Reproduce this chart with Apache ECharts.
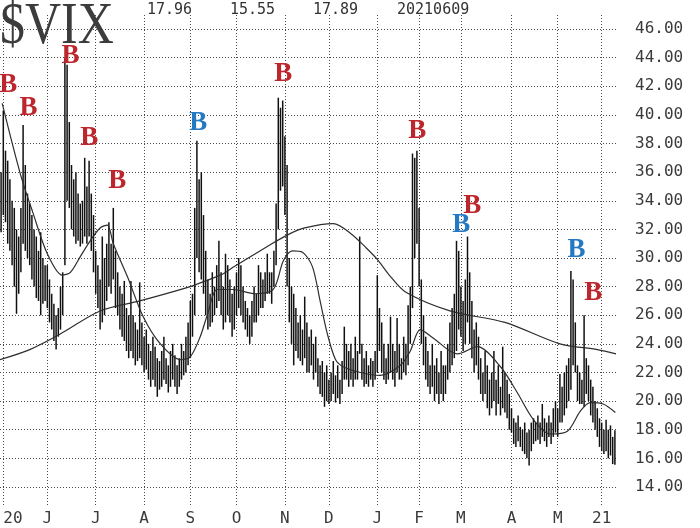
<!DOCTYPE html>
<html>
<head>
<meta charset="utf-8">
<script src="https://cdn.jsdelivr.net/npm/echarts@6/dist/echarts.min.js"></script>
<style>
  html, body { margin: 0; padding: 0; background: #fff; }
  #chart { width: 700px; height: 528px; }
</style>
</head>
<body>
<div id="chart"></div>
<script>
// trading-day index of the first bar (day 0 = first trading day of May 2020)
const firstDay = -1

// daily highs / lows of $VIX
const highs = [
  36.0, 40.3, 37.5, 36.8, 35.5, 34.0, 33.5, 32.0, 31.5, 33.5, 39.3,
  36.5, 34.5, 33.8, 33.0, 32.0, 31.5, 30.5, 31.8, 30.0, 29.5,
  29.5, 28.5, 27.5, 26.8, 26.0, 26.5, 28.0, 29.0, 44.0, 43.5,
  39.5, 36.5, 35.5, 36.0, 34.5, 33.8, 34.0, 37.0, 35.0, 36.8,
  34.5, 33.0, 30.5, 29.5, 28.5, 31.5, 30.0, 31.0, 32.5, 31.0,
  33.5, 30.5, 29.0, 28.0, 27.5, 28.4, 26.5, 26.0, 28.4, 26.0,
  25.5, 25.0, 28.3, 25.5, 24.5, 25.0, 24.0, 23.5, 24.5, 23.8,
  23.0, 22.8, 23.5, 24.5, 23.0, 22.5, 23.5, 24.0, 23.2, 22.5,
  23.0, 24.0, 23.5, 24.5, 25.5, 27.0, 27.5, 33.5, 38.2, 35.5,
  36.0, 33.0, 30.5, 28.5, 27.5, 29.0, 28.0, 29.5, 31.2, 29.0,
  28.0, 30.3, 29.5, 28.5, 27.5, 28.0, 29.0, 30.0, 29.5, 28.0,
  27.0, 26.5, 26.0, 27.0, 28.0, 27.5, 29.5, 29.0, 28.5, 29.0,
  30.3, 29.0, 29.0, 30.5, 33.8, 41.2, 40.5, 41.0, 38.5, 36.5,
  30.0, 28.0, 27.5, 26.5, 25.5, 26.0, 25.0, 27.3, 25.5, 24.5,
  25.0, 24.0, 24.5, 23.0, 22.5, 22.8, 22.0, 22.5, 21.5, 22.0,
  22.8, 21.8, 22.5, 21.5, 22.8, 25.2, 24.0, 23.5, 24.0, 23.0,
  24.5, 23.5, 31.5, 24.0, 23.0, 23.5, 22.5, 23.0, 22.8, 23.5,
  28.8, 26.5, 25.5, 24.0, 23.0, 24.0, 25.9, 24.0, 23.5, 25.8,
  24.0, 23.0, 24.5, 24.0, 26.7, 28.0, 37.3, 37.0, 37.5, 33.5,
  28.5, 26.0, 24.5, 23.5, 22.5, 24.0, 22.5, 23.0, 22.0, 23.5,
  22.5, 22.5, 24.0, 25.5, 26.5, 27.5, 31.2, 30.5, 28.0, 27.0,
  28.5, 31.5, 29.0, 27.0, 25.0, 25.5, 24.5, 23.0, 22.0, 23.5,
  22.5, 21.5, 22.0, 23.5, 21.5, 22.5, 21.0, 23.8, 22.0, 21.5,
  20.5, 19.5, 18.8, 18.5, 19.0, 18.2, 18.0, 18.5, 17.8, 18.0,
  18.5, 18.8, 18.5, 19.0, 18.5, 19.8, 18.8, 18.5, 19.0, 18.5,
  19.5, 20.0, 19.5, 21.9, 21.0, 22.0, 22.5, 23.0, 29.1, 28.5,
  25.5, 22.5, 22.0, 21.5, 26.0, 23.0, 22.5, 21.5, 21.0, 20.0,
  19.5, 18.8, 18.5, 18.0, 18.7, 18.0, 18.3, 17.5, 17.96
]
const lows = [
  31.8, 33.0, 32.5, 31.0, 30.5, 29.5, 28.0, 26.1, 27.5, 29.0, 31.0,
  30.5, 30.0, 29.5, 28.5, 28.0, 27.2, 27.0, 26.0, 26.8, 27.0,
  26.5, 25.5, 25.0, 24.2, 23.6, 24.5, 25.0, 26.0, 29.5, 34.0,
  33.5, 32.0, 31.5, 31.0, 31.2, 30.8, 31.0, 31.5, 31.0, 31.5,
  30.5, 29.0, 27.5, 26.5, 25.0, 25.5, 26.0, 27.0, 28.0, 27.5,
  28.5, 26.5, 26.0, 25.0, 24.5, 24.2, 23.5, 23.0, 23.5, 23.0,
  22.5, 22.8, 23.0, 22.5, 22.0, 22.2, 21.5, 21.0, 21.5, 21.0,
  20.3, 20.8, 21.0, 21.5, 21.2, 20.6, 21.0, 21.5, 21.0, 20.5,
  21.0, 21.5, 21.8, 22.0, 22.5, 23.0, 24.5, 26.0, 30.0, 29.0,
  28.5, 27.5, 26.0, 25.0, 25.2, 25.5, 26.0, 26.5, 27.0, 26.0,
  25.0, 25.5, 26.0, 25.5, 24.5, 25.0, 26.0, 26.5, 26.0, 25.5,
  25.0, 24.5, 24.0, 24.5, 25.5, 25.5, 26.0, 26.5, 26.5, 27.0,
  27.5, 27.5, 26.8, 28.0, 29.5, 32.0, 34.7, 35.0, 33.0, 28.0,
  25.5, 24.0, 22.5, 23.5, 23.0, 22.8, 22.5, 23.0, 22.0, 22.0,
  22.5, 21.5, 22.0, 21.0, 20.5, 20.3, 19.6, 20.0, 19.8, 20.0,
  20.5, 19.9, 20.2, 19.8, 20.5, 21.5, 21.5, 21.0, 21.5, 21.0,
  21.5, 21.5, 23.3, 21.5, 21.0, 21.2, 21.0, 21.5, 21.0, 21.5,
  22.0, 23.5, 22.0, 21.5, 21.2, 21.5, 22.0, 21.5, 21.0, 22.0,
  21.5, 21.5, 22.0, 21.8, 22.5, 24.0, 26.5, 30.0, 31.0, 28.0,
  24.0, 22.5, 21.5, 21.0, 20.5, 21.0, 20.0, 20.5, 19.8, 20.5,
  20.0, 20.5, 21.5, 22.0, 22.5, 23.0, 23.5, 25.0, 24.5, 23.5,
  24.0, 25.5, 24.0, 23.0, 22.0, 22.5, 21.5, 20.5, 20.0, 20.5,
  19.5, 19.0, 19.5, 20.0, 19.0, 19.8, 19.0, 19.5, 19.2, 18.8,
  18.0, 17.8, 17.0, 16.8, 17.2, 16.8, 16.5, 16.3, 16.0, 15.5,
  16.5, 17.0, 17.2, 17.3, 17.0, 17.5, 17.2, 16.8, 17.5, 17.0,
  17.5, 17.8, 17.5, 18.5, 18.5, 19.0, 19.5, 20.0, 20.8, 22.5,
  22.0, 20.0, 19.8, 19.8, 19.6, 20.5, 20.0, 19.0, 18.5, 18.0,
  17.5, 16.8, 16.5, 16.3, 16.5, 16.0, 16.2, 15.6, 15.55
]

// moving averages [day, value]
const ma20 = [
  [-0.5, 40.8], [7.7, 35.9], [13.6, 33.1], [20, 30.3], [26.8, 28.8], [30.5, 29.0],
  [35, 30.1], [39.5, 31.2], [44, 32.1], [47.3, 32.3], [50, 31.0], [56.4, 28.7],
  [63.6, 25.9], [71.4, 24.0], [80.5, 22.9], [85, 23.1], [89.5, 24.5], [92.7, 26.0],
  [97.3, 27.8], [104.5, 27.8], [114.5, 27.5], [122.7, 27.8], [127.3, 29.8], [131.4, 30.5],
  [136, 30.4], [140.5, 29.4], [144, 27.0], [147.3, 24.7], [151, 22.9], [154.5, 22.4],
  [162.3, 22.0], [171.4, 21.8], [180.5, 22.5], [185, 23.5], [189.5, 25.0], [195.5, 24.4],
  [206.4, 23.3], [215.5, 23.8], [226, 22.4], [233.6, 20.6], [241, 18.7], [248.6, 17.7],
  [256.4, 17.9], [262.3, 19.3], [266.8, 19.9], [272.7, 19.8], [278.2, 19.2]
]
const ma200 = [
  [-1.5, 22.9], [12, 23.6], [26, 24.7], [44, 26.3], [62, 27.0], [85, 28.0], [92, 28.4],
  [100, 28.9], [105, 29.4], [120, 30.8], [129, 31.6], [137, 32.1], [150, 32.4],
  [158, 31.7], [165, 30.7], [170, 29.9], [176, 28.7], [183, 27.6], [203, 26.3],
  [228, 25.5], [253, 24.0], [270, 23.6], [278.5, 23.3]
]

// buy signals [day, level]
const redB = [[2.3, 42.1], [11.4, 40.5], [30.5, 44.1], [39.1, 38.4], [51.8, 35.4],
  [127.3, 42.85], [188.2, 38.9], [213.2, 33.6], [268.2, 27.55]]
const blueB = [[88.6, 39.4], [208.2, 32.3], [260.5, 30.55]]

// axis ticks
const monthDays = [0, 20, 42, 64, 85, 106, 128, 148, 170, 189, 208, 231, 252, 272]
const monthLabels = ['20', 'J', 'J', 'A', 'S', 'O', 'N', 'D', 'J', 'F', 'M', 'A', 'M', '21']
const yTicks = [14, 16, 18, 20, 22, 24, 26, 28, 30, 32, 34, 36, 38, 40, 42, 44, 46]
const header = ['17.96', '15.55', '17.89', '20210609']

const bars = highs.map((h, i) => [firstDay + i, lows[i], h])

const gridLine = { show: true, lineStyle: { color: '#4a4a4a', type: [1, 2], width: 1 } }
const labelFont = { fontFamily: 'DejaVu Sans Mono', fontSize: 16, color: '#3a3a3a' }

const myChart = echarts.init(document.getElementById('chart'))

const bLabel = (color) => ({
  show: true,
  position: 'inside',
  formatter: 'B',
  fontFamily: 'Liberation Serif',
  fontWeight: 'bold',
  fontSize: 27,
  color: color,
  opacity: 1
})

const options = {
  backgroundColor: '#fff',
  animation: false,
  grid: { left: 0, right: 84, top: 15, bottom: 23, outerBoundsMode: 'none', containLabel: false },
  xAxis: {
    type: 'value',
    min: -1.5,
    max: 278.5,
    axisLine: { show: false },
    axisTick: { show: false, customValues: monthDays },
    splitLine: gridLine,
    axisLabel: Object.assign({
      customValues: monthDays,
      margin: 6,
      alignMinLabel: 'left',
      formatter: (v) => monthLabels[monthDays.indexOf(v)]
    }, labelFont)
  },
  yAxis: {
    type: 'value',
    position: 'right',
    min: 12.74,
    max: 46.98,
    axisLine: { show: false },
    axisTick: { show: false, customValues: yTicks },
    splitLine: gridLine,
    axisLabel: Object.assign({
      customValues: yTicks,
      margin: 19,
      formatter: (v) => v.toFixed(2)
    }, labelFont)
  },
  graphic: [
    {
      type: 'text', x: 0, y: -2, scaleY: 1.18, z: 5,
      style: { text: '$VIX', font: '50px "Liberation Serif"', fill: '#3c3c3c', textVerticalAlign: 'top' }
    },
    ...header.map((t, i) => ({
      type: 'text', x: [147, 230, 313, 397][i], y: 10, z: 5,
      style: { text: t, font: '15px "DejaVu Sans Mono"', fill: '#333', textVerticalAlign: 'middle' }
    }))
  ],
  series: [
    {
      type: 'custom',
      data: bars,
      encode: { x: 0, y: [1, 2] },
      clip: true,
      renderItem: (params, api) => {
        const day = api.value(0)
        const lo = api.coord([day, api.value(1)])
        const hi = api.coord([day, api.value(2)])
        return {
          type: 'line',
          shape: { x1: lo[0], y1: lo[1], x2: hi[0], y2: hi[1] },
          style: { stroke: '#111', lineWidth: 1.5 }
        }
      }
    },
    {
      type: 'line',
      data: ma20,
      smooth: 0.3,
      showSymbol: false,
      lineStyle: { color: '#2e2e2e', width: 1.2 }
    },
    {
      type: 'line',
      data: ma200,
      smooth: 0.3,
      showSymbol: false,
      lineStyle: { color: '#2e2e2e', width: 1.2 }
    },
    {
      type: 'scatter',
      data: redB,
      symbolSize: 1,
      itemStyle: { color: 'rgba(0,0,0,0)' },
      label: bLabel('#bd262c'),
      z: 10
    },
    {
      type: 'scatter',
      data: blueB,
      symbolSize: 1,
      itemStyle: { color: 'rgba(0,0,0,0)' },
      label: bLabel('#2479c2'),
      z: 10
    }
  ]
}

myChart.setOption(options)
</script>
</body>
</html>
